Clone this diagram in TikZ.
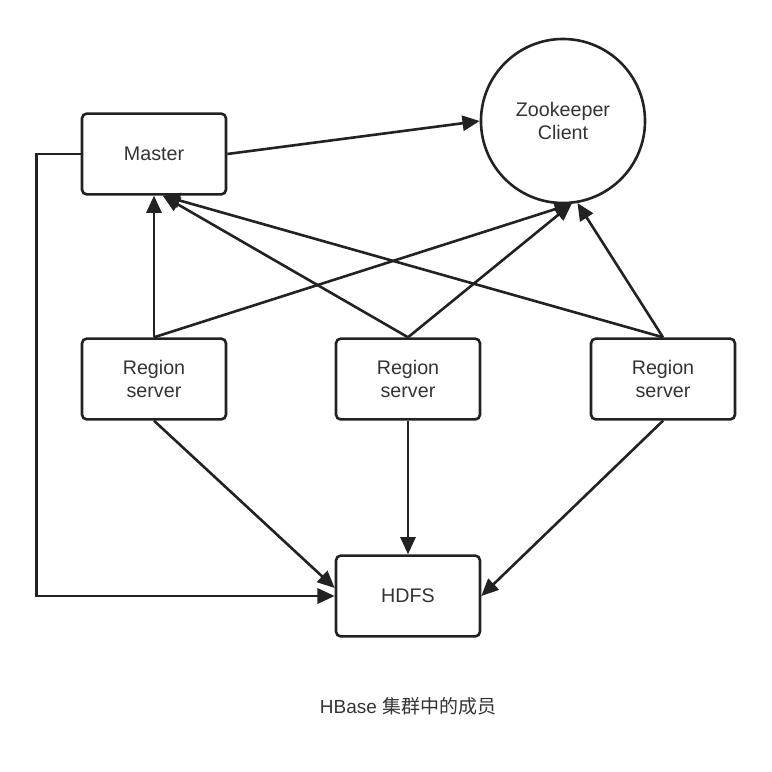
\documentclass[tikz,border=0pt]{standalone}
\usepackage{fontspec}
\setmainfont{Liberation Sans}
\newfontfamily\cjk{Noto Sans CJK SC}
\usetikzlibrary{arrows.meta}
\definecolor{linegray}{HTML}{222222}
\definecolor{textgray}{HTML}{333333}
\tikzset{
  box/.style={draw=linegray, line width=0.065cm, rounded corners=0.12cm,
    minimum width=3.6cm, minimum height=2.02cm, align=center,
    font=\fontsize{14}{17}\selectfont, text=textgray},
  link/.style={draw=linegray, line width=0.065cm,
    -{Triangle[length=0.43cm, width=0.38cm]}}
}
\begin{document}
\begin{tikzpicture}[x=0.025cm, y=-0.025cm]

  \useasboundingbox (0,0) rectangle (772,772);

  \node[box] (master) at (154,154) {Master};
  \node[draw=linegray, line width=0.065cm, circle, minimum size=4.1cm,
    align=center, font=\fontsize{14}{17}\selectfont, text=textgray]
    (zk) at (563,121) {Zookeeper\\Client};

  \node[box] (rs1) at (154,379) {Region\\server};
  \node[box] (rs2) at (408,379) {Region\\server};
  \node[box] (rs3) at (663,379) {Region\\server};

  \node[box] (hdfs) at (408,596) {HDFS};

  \node[font=\fontsize{13.5}{16}\selectfont, text=textgray] (caption) at (408,706) {HBase {\cjk 集群中的成员}};

  % master and region servers to zookeeper
  \draw[link] (master.east) -- (zk.west);
  \draw[link] (rs1.north) -- (zk.-84);
  \draw[link] (rs2.north) -- (zk.-84);
  \draw[link] (rs3.north) -- (zk.-80);

  % region servers to master
  \draw[link] (rs1.north) -- (master.south);
  \draw[link] (rs2.north) -- ([xshift=0.22cm]master.south);
  \draw[link] (rs3.north) -- ([xshift=0.22cm]master.south);

  % everything down to hdfs
  \draw[link] (rs1.south) -- ([yshift=0.2cm]hdfs.west);
  \draw[link] (rs2.south) -- (hdfs.north);
  \draw[link] (rs3.south) -- (hdfs.east);
  \draw[link] (master.west) -- ++(-44,0) |- (hdfs.west);

\end{tikzpicture}
\end{document}
